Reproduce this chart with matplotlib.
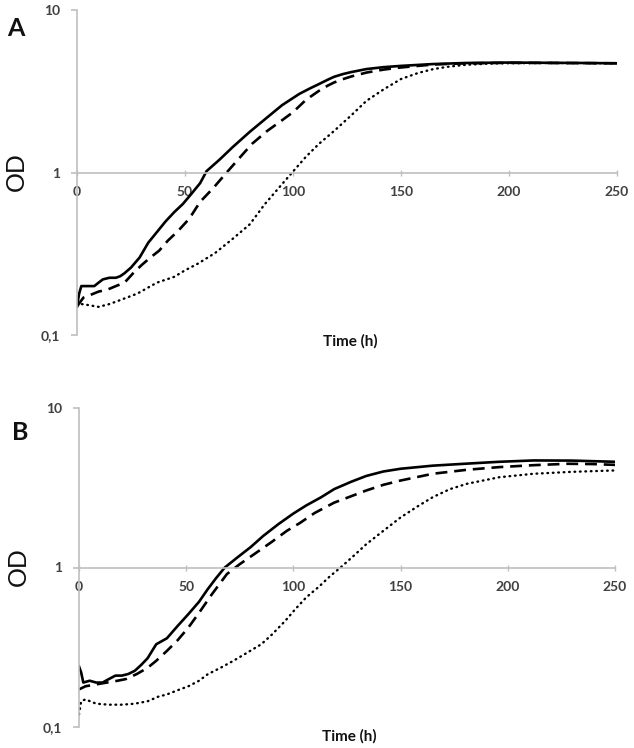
import matplotlib
matplotlib.use("Agg")
import matplotlib.pyplot as plt
from matplotlib.ticker import FixedLocator, NullLocator

plt.rcParams['font.family'] = ['Lato', 'DejaVu Sans']

# ---------------- Panel A data ----------------
a_solid_t = [0, 1, 2, 5, 8, 10, 12, 15, 18, 20, 22, 25, 29, 33, 37, 41, 45, 49, 53, 57, 60, 66, 72, 80, 88, 95, 103, 108, 112, 116, 119, 123, 127, 134, 142, 150, 165, 180, 200, 220, 235, 250]
a_solid_v = [0.15, 0.18, 0.20, 0.20, 0.20, 0.21, 0.22, 0.225, 0.225, 0.23, 0.24, 0.26, 0.30, 0.37, 0.43, 0.50, 0.57, 0.64, 0.74, 0.86, 1.02, 1.20, 1.43, 1.78, 2.18, 2.60, 3.05, 3.30, 3.50, 3.72, 3.88, 4.03, 4.15, 4.33, 4.45, 4.53, 4.65, 4.72, 4.75, 4.73, 4.72, 4.70]

a_dash_t = [0, 3, 6, 10, 14, 18, 22, 26, 30, 34, 38, 42, 47, 52, 57, 63, 69, 75, 81, 88, 95, 100, 106, 112, 116, 119, 123, 127, 134, 142, 150, 165, 180, 200, 220, 250]
a_dash_v = [0.15, 0.17, 0.176, 0.185, 0.19, 0.20, 0.21, 0.24, 0.27, 0.30, 0.33, 0.38, 0.44, 0.52, 0.66, 0.80, 0.99, 1.22, 1.50, 1.80, 2.10, 2.35, 2.80, 3.18, 3.42, 3.58, 3.75, 3.90, 4.12, 4.30, 4.43, 4.62, 4.70, 4.73, 4.72, 4.70]

a_dot_t = [0, 2, 5, 10, 15, 20, 28, 37, 45, 50, 56, 64, 72, 80, 87, 95, 101, 106, 112, 119, 127, 134, 142, 150, 158, 165, 172, 180, 188, 196, 220, 250]
a_dot_v = [0.16, 0.155, 0.153, 0.149, 0.155, 0.164, 0.18, 0.21, 0.228, 0.25, 0.275, 0.32, 0.39, 0.48, 0.64, 0.85, 1.05, 1.25, 1.50, 1.80, 2.25, 2.76, 3.25, 3.76, 4.10, 4.33, 4.48, 4.60, 4.66, 4.70, 4.72, 4.70]

# ---------------- Panel B data ----------------
b_solid_t = [0, 1, 2, 5, 8, 11, 14, 17, 20, 23, 26, 29, 32, 36, 41, 46, 51, 56, 60, 64, 68, 74, 80, 86, 93, 100, 106, 113, 119, 127, 134, 142, 150, 165, 181, 196, 212, 230, 250]
b_solid_v = [0.24, 0.22, 0.19, 0.195, 0.19, 0.19, 0.20, 0.21, 0.21, 0.215, 0.225, 0.245, 0.27, 0.33, 0.36, 0.43, 0.51, 0.61, 0.73, 0.86, 1.00, 1.16, 1.34, 1.58, 1.87, 2.18, 2.45, 2.76, 3.10, 3.45, 3.75, 4.00, 4.16, 4.35, 4.48, 4.60, 4.69, 4.68, 4.60]

b_dash_t = [0, 3, 8, 13, 18, 22, 27, 32, 36, 41, 46, 51, 56, 62, 69, 75, 82, 90, 97, 103, 110, 119, 127, 134, 142, 150, 165, 181, 196, 212, 228, 240, 250]
b_dash_v = [0.172, 0.18, 0.185, 0.19, 0.195, 0.20, 0.215, 0.235, 0.26, 0.30, 0.35, 0.42, 0.52, 0.68, 0.91, 1.05, 1.22, 1.45, 1.70, 1.90, 2.20, 2.55, 2.80, 3.04, 3.30, 3.51, 3.87, 4.10, 4.26, 4.38, 4.47, 4.45, 4.40]

b_dot_t = [0, 1, 3, 8, 14, 20, 26, 32, 37, 41, 46, 51, 56, 60, 66, 72, 78, 85, 90, 96, 101, 106, 112, 117, 122, 128, 134, 142, 150, 158, 165, 173, 181, 196, 212, 230, 250]
b_dot_v = [0.12, 0.145, 0.149, 0.14, 0.138, 0.138, 0.14, 0.145, 0.155, 0.16, 0.17, 0.18, 0.195, 0.214, 0.235, 0.26, 0.29, 0.33, 0.38, 0.46, 0.55, 0.65, 0.76, 0.88, 1.00, 1.18, 1.40, 1.70, 2.06, 2.42, 2.76, 3.10, 3.35, 3.68, 3.87, 3.98, 4.06]

y_ticks = [0.1, 1, 10]
y_tick_labels = ["0,1", "1", "10"]
x_ticks = [0, 50, 100, 150, 200, 250]
x_tick_labels = ["0", "50", "100", "150", "200", "250"]

W, H = 634, 748
fig = plt.figure(figsize=(W / 100, H / 100), dpi=100)

def make_axes(l, r, top, bot):
    return fig.add_axes([l / W, 1 - bot / H, (r - l) / W, (bot - top) / H])

axA = make_axes(77, 617, 10, 335)
axB = make_axes(79, 615, 408, 727)

grey = "#bfbfbf"
txt = "#404040"

def style(ax, panels):
    (st, sv), (dt, dv), (ot, ov) = panels
    ax.plot(st, sv, color="black", lw=1.9, ls="-", solid_joinstyle="round")
    ax.plot(dt, dv, color="black", lw=1.9, ls=(0, (4.5, 2.6)))
    ax.plot(ot, ov, color="black", lw=1.7, ls=(0, (0.3, 2.0)), dash_capstyle="round")
    ax.set_yscale("log")
    ax.set_ylim(0.1, 10)
    ax.set_xlim(0, 250)
    for s in ["top", "right"]:
        ax.spines[s].set_visible(False)
    ax.spines["left"].set_color(grey)
    ax.spines["left"].set_linewidth(1.2)
    ax.spines["bottom"].set_position(("data", 1))
    ax.spines["bottom"].set_color(grey)
    ax.spines["bottom"].set_linewidth(1.2)
    ax.yaxis.set_major_locator(FixedLocator(y_ticks))
    ax.yaxis.set_minor_locator(NullLocator())
    ax.set_yticklabels(y_tick_labels)
    ax.set_xticks(x_ticks)
    ax.set_xticklabels(x_tick_labels)
    ax.tick_params(axis="y", direction="out", length=4, width=1.2, color=grey,
                   labelsize=10, labelcolor=txt, pad=8)
    ax.tick_params(axis="x", direction="inout", length=4, width=1.0, color=grey,
                   labelsize=10, labelcolor=txt, pad=8)
    for lab in ax.get_yticklabels() + ax.get_xticklabels():
        lab.set_fontweight("bold")
    ax.patch.set_visible(False)

style(axA, [(a_solid_t, a_solid_v), (a_dash_t, a_dash_v), (a_dot_t, a_dot_v)])
style(axB, [(b_solid_t, b_solid_v), (b_dash_t, b_dash_v), (b_dot_t, b_dot_v)])

# Labels
fig.text(16 / W, 1 - 172 / H, "OD", rotation=90, fontsize=18, color="#111111",
         ha="center", va="center")
fig.text(18 / W, 1 - 567 / H, "OD", rotation=90, fontsize=18, color="#111111",
         ha="center", va="center")
fig.text(350 / W, 1 - 341 / H, "Time (h)", fontsize=11, fontweight="bold",
         color="#111111", ha="center", va="center")
fig.text(349 / W, 1 - 736 / H, "Time (h)", fontsize=11, fontweight="bold",
         color="#111111", ha="center", va="center")
fig.text(16 / W, 1 - 29 / H, "A", fontsize=18, fontweight="bold", color="#111111",
         ha="center", va="center")
fig.text(20 / W, 1 - 432 / H, "B", fontsize=18, fontweight="bold", color="#111111",
         ha="center", va="center")

fig.savefig("out.png", dpi=100, facecolor="white")
